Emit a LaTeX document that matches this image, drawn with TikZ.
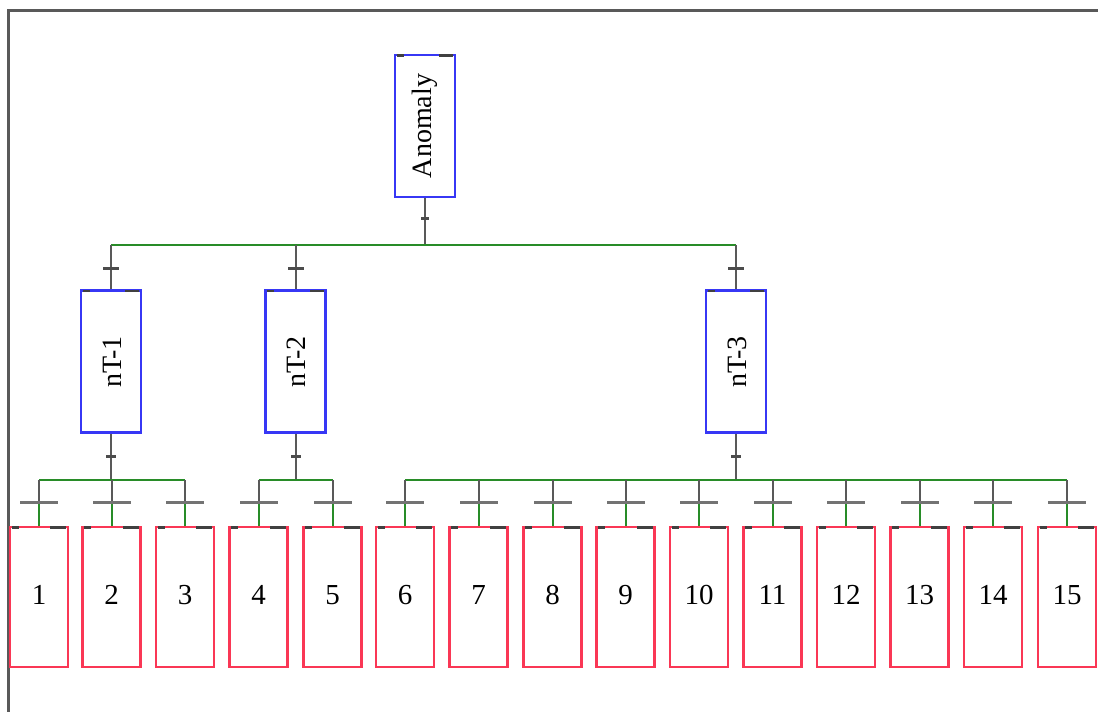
\documentclass[tikz,border=0pt]{standalone}
\usepackage{fontspec}
\setmainfont{Liberation Serif}
\usetikzlibrary{calc}
\definecolor{boxblue}{RGB}{55,55,245}
\definecolor{boxred}{RGB}{250,55,85}
\definecolor{lgreen}{RGB}{40,140,40}
\begin{document}
\begin{tikzpicture}[x=1pt,y=-1pt,
  bluebox/.style={draw=boxblue, line width=2.2pt, minimum width=60pt, minimum height=142pt, inner sep=0pt},
  redbox/.style={draw=boxred, line width=2.2pt, minimum width=58pt, minimum height=140pt, inner sep=0pt},
  boxtext/.style={font=\fontsize{28}{30}\selectfont, text=black, inner sep=0pt},
  numtext/.style={font=\fontsize{29}{30}\selectfont, text=black, inner sep=0pt},
  hline/.style={draw=lgreen, line width=2pt},
  vgray/.style={draw=black!65, line width=2pt},
  vgreen/.style={draw=lgreen, line width=2pt},
  lab/.style={fill=black!70, inner sep=0pt, minimum height=3pt},
  cornermark/.style={draw=black!75, line width=2.6pt},
  frameline/.style={draw=black!65, line width=3pt}]
\useasboundingbox (0,0) rectangle (1098,712);
% frame
\coordinate (f0) at (8,712);
\coordinate (f1) at (8,10);
\coordinate (f2) at (1098,10);
\draw[frameline] (f0) -- (f1) -- (f2);
% root
\node[bluebox] (A) at (425,126) {};
\node[boxtext, rotate=90] (At) at (A) {Anomaly};
% second level
\node[bluebox] (n1) at (111,361.5) {};
\node[bluebox] (n2) at (295.5,361.5) {};
\node[bluebox] (n3) at (736,361.5) {};
\node[boxtext, rotate=90] (n1t) at (112,362) {nT-1};
\node[boxtext, rotate=90] (n2t) at (296,362) {nT-2};
\node[boxtext, rotate=90] (n3t) at (737,362) {nT-3};
% leaves
\foreach \i/\x in {1/39,2/111.5,3/185,4/258.5,5/332.5,6/405,7/478.5,8/552.5,9/625.5,10/699,11/772.5,12/846,13/919.5,14/993,15/1067}{
  \node[redbox] (b\i) at (\x,597) {};
  \node[numtext] (b\i t) at (\x,595) {\i};
  \draw[cornermark] ([xshift=3pt,yshift=-1.5pt]b\i.north west) -- ++(7,0);
  \draw[cornermark] ([xshift=-3pt,yshift=-1.5pt]b\i.north east) -- ++(-16,0);
}
\foreach \n in {A,n1,n2,n3}{
  \draw[cornermark] ([xshift=3pt,yshift=-1.5pt]\n.north west) -- ++(7,0);
  \draw[cornermark] ([xshift=-3pt,yshift=-1.5pt]\n.north east) -- ++(-14,0);
}
% root connectors
\coordinate (hA) at (425,245);
\coordinate (h1) at (111,245);
\coordinate (h2) at (295.5,245);
\coordinate (h3) at (736,245);
\draw[vgray] (A.south) -- (hA);
\node[lab, minimum width=8pt] (lA) at (425,218) {};
\draw[hline] (h1) -- (h3);
\foreach \k in {1,2,3}{
  \draw[vgray] (h\k) -- (n\k.north);
  \node[lab, minimum width=16pt] (l\k) at ($(h\k)+(0,23)$) {};
}
% second-level connectors
\coordinate (g1) at (111,480);
\coordinate (g2) at (295.5,480);
\coordinate (g3) at (736,480);
\foreach \k in {1,2,3}{
  \draw[vgray] (n\k.south) -- (g\k);
  \node[lab, minimum width=10pt] (m\k) at ($(g\k)+(0,-24)$) {};
}
\coordinate (c1) at (39,480);
\coordinate (c3) at (185,480);
\coordinate (c4) at (258.5,480);
\coordinate (c5) at (332.5,480);
\coordinate (c6) at (405,480);
\coordinate (c15) at (1067,480);
\draw[hline] (c1) -- (c3);
\draw[hline] (c4) -- (c5);
\draw[hline] (c6) -- (c15);
\foreach \i/\x in {1/39,2/111.5,3/185,4/258.5,5/332.5,6/405,7/478.5,8/552.5,9/625.5,10/699,11/772.5,12/846,13/919.5,14/993,15/1067}{
  \coordinate (t\i) at (\x,480);
  \coordinate (u\i) at (\x,502);
  \draw[vgray] (t\i) -- (u\i);
  \draw[vgreen] (u\i) -- (b\i.north);
  \node[lab, minimum width=38pt, fill=black!55] (lb\i) at (u\i) {};
}
\end{tikzpicture}
\end{document}
